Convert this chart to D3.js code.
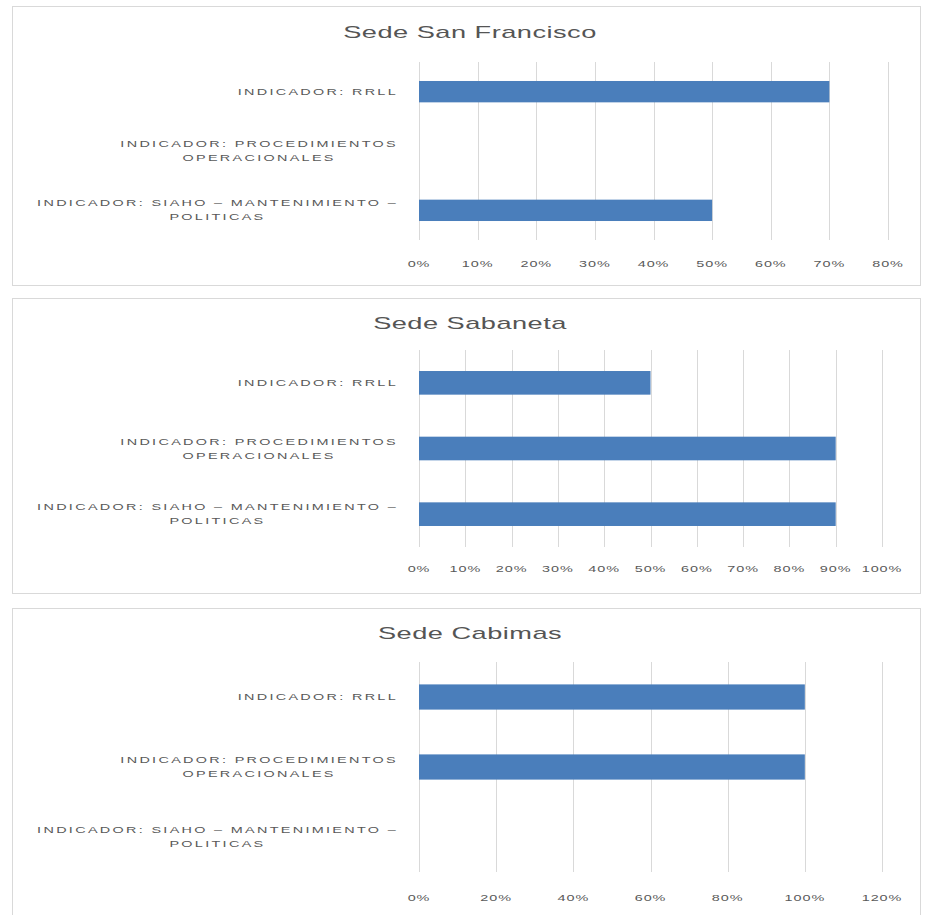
<!DOCTYPE html>
<html>
<head>
<meta charset="utf-8">
<script src="https://cdn.jsdelivr.net/npm/d3@7"></script>
<style>
  body { margin: 0; background: #fff; }
  text { font-family: "Liberation Sans", Arial, sans-serif; }
</style>
</head>
<body>
<div id="chart"></div>
<script>
// categories (two lines each, as in the picture)
const categories = [
	["INDICADOR: RRLL"],
	["INDICADOR: PROCEDIMIENTOS", "OPERACIONALES"],
	["INDICADOR: SIAHO – MANTENIMIENTO –", "POLITICAS"]
];
const titles = ["Sede San Francisco", "Sede Sabaneta", "Sede Cabimas"];
const sanFrancisco = [0.70, 0, 0.50];
const sabaneta = [0.50, 0.90, 0.90];
const cabimas = [1.00, 1.00, 0];
const axisMax = [0.8, 1.0, 1.2];
const tickStep = [0.1, 0.1, 0.2];

const series = [sanFrancisco, sabaneta, cabimas];

// panel layout
const panels = [
	{ top: 6, height: 279, plotTop: 62, plotBottom: 240, titleY: 38, tickY: 267 },
	{ top: 298, height: 295, plotTop: 350, plotBottom: 547, titleY: 329, tickY: 572 },
	{ top: 608, height: 310, plotTop: 662, plotBottom: 872, titleY: 639, tickY: 901 }
];

const svg = d3.select("#chart")
	.append("svg")
	.attr("width", 925)
	.attr("height", 915);

const stretch = 1.6;
const labelSize = 9;
const labelSpacing = 1.45;

panels.forEach((p, i) => {
	const g = svg.append("g");

	g.append("rect")
		.attr("x", 12.5)
		.attr("y", p.top + 0.5)
		.attr("width", 908)
		.attr("height", p.height)
		.attr("fill", "#fff")
		.attr("stroke", "#d9d9d9");

	g.append("text")
		.attr("transform", `translate(470, ${p.titleY}) scale(${stretch},1)`)
		.attr("text-anchor", "middle")
		.attr("font-size", 17)
		.attr("letter-spacing", 0.3)
		.attr("fill", "#555")
		.text(titles[i]);

	const x = d3.scaleLinear()
		.domain([0, axisMax[i]])
		.range([419, i === 0 ? 888 : 882]);

	const y = d3.scaleBand()
		.domain(d3.range(categories.length))
		.range([p.plotTop, p.plotBottom])
		.paddingInner(0.64)
		.paddingOuter(0.32);

	const ticks = d3.range(0, axisMax[i] + 1e-9, tickStep[i]);

	// gridlines
	g.selectAll(".grid")
		.data(ticks)
		.enter()
		.append("line")
		.attr("x1", d => Math.round(x(d)) + 0.5)
		.attr("x2", d => Math.round(x(d)) + 0.5)
		.attr("y1", p.plotTop)
		.attr("y2", p.plotBottom)
		.attr("stroke", "#d9d9d9");

	// tick labels
	g.selectAll(".tick")
		.data(ticks)
		.enter()
		.append("text")
		.attr("transform", d => `translate(${x(d)}, ${p.tickY}) scale(${stretch},1)`)
		.attr("text-anchor", "middle")
		.attr("font-size", 9)
		.attr("letter-spacing", 0.6)
		.attr("fill", "#595959")
		.text(d3.format(".0%"));

	// bars
	g.selectAll(".bar")
		.data(series[i])
		.enter()
		.append("rect")
		.attr("x", x(0))
		.attr("y", (d, k) => y(k))
		.attr("width", d => x(d) - x(0))
		.attr("height", y.bandwidth())
		.attr("fill", "#4a7ebb");

	// category labels
	categories.forEach((lines, k) => {
		const cy = y(k) + y.bandwidth() / 2;
		const lh = 14;
		lines.forEach((line, j) => {
			const ly = cy + 3 + (j - (lines.length - 1) / 2) * lh;
			g.append("text")
				.attr("transform", j === 0
					? `translate(398, ${ly}) scale(${stretch},1)`
					: `translate(${398 - firstWidth(lines[0]) / 2}, ${ly}) scale(${stretch},1)`)
				.attr("text-anchor", j === 0 ? "end" : "middle")
				.attr("font-size", labelSize)
				.attr("letter-spacing", labelSpacing)
				.attr("fill", "#595959")
				.text(line);
		});
	});
});

// width of first label line (stretched), used to centre the second line under it
function firstWidth(str) {
	const t = svg.append("text")
		.attr("font-size", labelSize)
		.attr("letter-spacing", labelSpacing)
		.text(str);
	const w = t.node().getComputedTextLength() * stretch;
	t.remove();
	return w;
}
</script>
</body>
</html>
